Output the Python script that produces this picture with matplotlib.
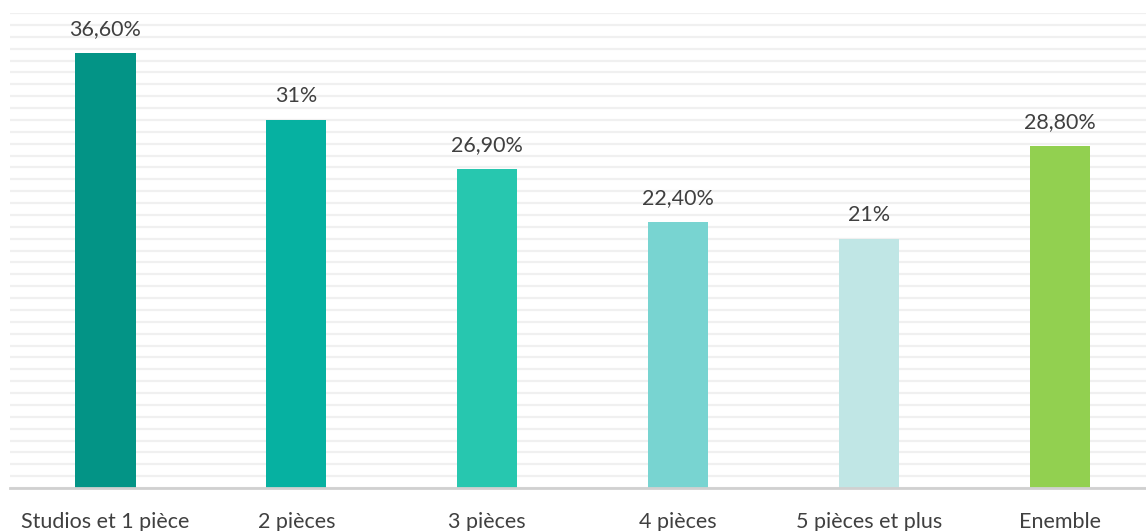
import matplotlib.pyplot as plt

# donnees
categories = ["Studios et 1 pièce", "2 pièces", "3 pièces", "4 pièces",
              "5 pièces et plus", "Enemble"]
valeurs = [36.6, 31.0, 26.9, 22.4, 21.0, 28.8]
etiquettes = ["36,60%", "31%", "26,90%", "22,40%", "21%", "28,80%"]
couleurs = ["#039486", "#06B1A1", "#27C7AF", "#78D4D1", "#C0E6E5", "#92D050"]

plt.rcParams["font.family"] = ["Lato", "DejaVu Sans"]

fig = plt.figure(figsize=(11.46, 5.31), dpi=100)
ax = fig.add_axes([10 / 1146, 43 / 531, 1 - 10 / 1146, 475 / 531])

x = list(range(len(categories)))
ax.bar(x, valeurs, width=0.315, color=couleurs, zorder=3)

for xi, v, lab in zip(x, valeurs, etiquettes):
    ax.annotate(lab, (xi, v), xytext=(0, 10), textcoords="offset points",
                ha="center", va="bottom", fontsize=15.5, color="#404040")

ax.set_xlim(-0.5, 5.45)
ax.set_ylim(0, 40)
ax.set_yticks(range(0, 41))
ax.yaxis.grid(True, color="#F0F0F0", linewidth=1.6, zorder=0)
ax.set_axisbelow(True)

ax.set_xticks(x)
ax.set_xticklabels(categories, fontsize=15.5, color="#404040")
ax.tick_params(axis="x", length=0, pad=17)
ax.tick_params(axis="y", left=False, labelleft=False)

for s in ["top", "right", "left"]:
    ax.spines[s].set_visible(False)
ax.spines["bottom"].set_color("#D0D0D0")
ax.spines["bottom"].set_linewidth(2)
ax.spines["bottom"].set_zorder(4)

fig.savefig("out.png", dpi=100)
